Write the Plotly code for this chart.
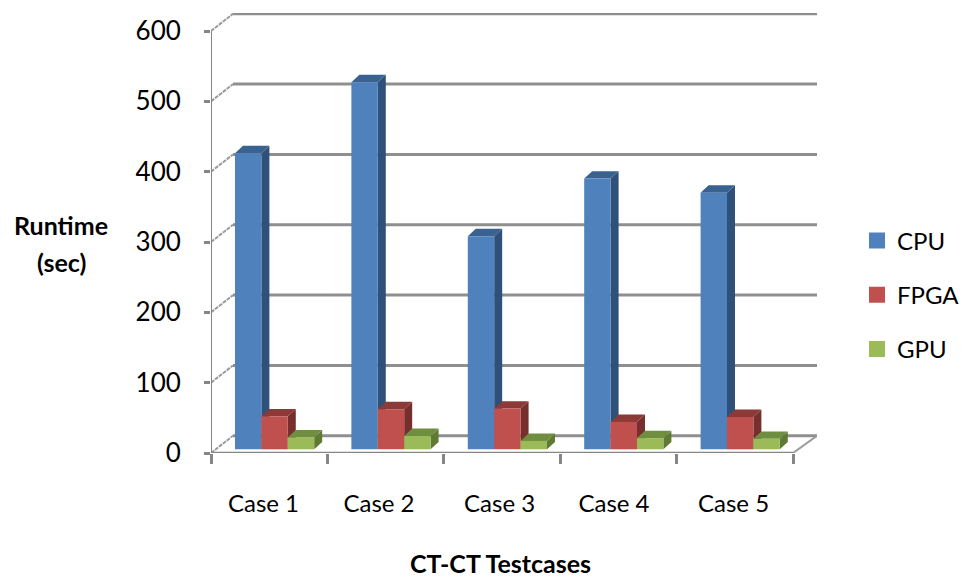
import plotly.graph_objects as go

# Runtime per test case, in seconds
cases = ["Case 1", "Case 2", "Case 3", "Case 4", "Case 5"]
case_label_pos = [0.451, 1.443, 2.479, 3.462, 4.489]
cpu = [421, 522, 303, 385, 365]
fpga = [47, 57, 58, 39, 46]
gpu = [17, 19, 12, 16, 15]
y_ticks = [0, 100, 200, 300, 400, 500, 600]

# Pseudo-3D projection, in axis units
WALL_DX = 0.189      # horizontal shift of the back wall
WALL_DY = 24.5       # vertical shift of the back wall
BAR_DX = 0.0687      # horizontal bar depth
BAR_DY = 10.5        # vertical bar depth
BAR_LIFT = 5.2       # bars stand slightly behind the front edge of the floor
BAR_W = 0.2268
FIRST_BAR = 0.206
AXIS = "#868686"
FONT = "Lato, 'Open Sans', sans-serif"

series = [
    ("CPU", cpu, "#4F81BD", "#2F5079", "#3A6291"),
    ("FPGA", fpga, "#C0504D", "#772F2D", "#8C3A38"),
    ("GPU", gpu, "#9BBB59", "#5F7A33", "#708E40"),
]

fig = go.Figure()

# Back wall gridlines, each with a diagonal down to the value axis
for v in y_ticks:
    fig.add_trace(go.Scatter(
        x=[WALL_DX, 5 + WALL_DX + 0.017], y=[v + WALL_DY, v + WALL_DY], mode="lines",
        line=dict(color="#8F8F8F", width=3), showlegend=False, hoverinfo="skip", zorder=0,
    ))
    fig.add_trace(go.Scatter(
        x=[0, WALL_DX], y=[v, v + WALL_DY], mode="lines",
        line=dict(color="#9A9A9A", width=2, dash="4px,1px"),
        showlegend=False, hoverinfo="skip", zorder=0,
    ))

# Right-hand edge of the floor
fig.add_trace(go.Scatter(
    x=[5, 5 + WALL_DX + 0.017], y=[0, WALL_DY], mode="lines",
    line=dict(color="#9A9A9A", width=2), showlegend=False, hoverinfo="skip", zorder=0,
))

z = 1
for s, (name, values, front, side, top) in enumerate(series):
    sx, sy, tx, ty, px = [], [], [], [], []
    for i, v in enumerate(values):
        left = i + FIRST_BAR + s * BAR_W
        right = left + BAR_W
        h = v + BAR_LIFT
        sx += [right, right + BAR_DX, right + BAR_DX, right, None]
        sy += [BAR_LIFT, BAR_LIFT + BAR_DY, h + BAR_DY, h, None]
        tx += [left, left + BAR_DX, right + BAR_DX, right, None]
        ty += [h, h + BAR_DY, h + BAR_DY, h, None]
        px.append((left + right) / 2)
    for fx, fy, colour in ((sx, sy, side), (tx, ty, top)):
        fig.add_trace(go.Scatter(
            x=fx, y=fy, mode="lines", fill="toself", fillcolor=colour,
            line=dict(width=0, color=colour), showlegend=False, hoverinfo="skip", zorder=z,
        ))
    z += 1
    fig.add_trace(go.Bar(
        x=px, y=values, base=BAR_LIFT, width=BAR_W, marker=dict(color=front, line=dict(width=0)),
        showlegend=False, name=name, zorder=z,
    ))
    z += 1
    # Larger square swatch for the legend
    fig.add_trace(go.Scatter(
        x=[None], y=[None], mode="markers", name=name, legendgroup=name,
        marker=dict(symbol="square", size=16, color=front), zorder=z,
    ))

# Front axis lines
fig.add_trace(go.Scatter(
    x=[0, 5], y=[0, 0], mode="lines", line=dict(color=AXIS, width=2.5),
    showlegend=False, hoverinfo="skip", cliponaxis=False, zorder=z + 1,
))
fig.add_trace(go.Scatter(
    x=[0, 0], y=[0, 600], mode="lines", line=dict(color=AXIS, width=2),
    showlegend=False, hoverinfo="skip", cliponaxis=False, zorder=z + 1,
))

fig.update_layout(
    width=962, height=580, autosize=False,
    margin=dict(l=211, r=145, t=13, b=127, autoexpand=False),
    paper_bgcolor="white", plot_bgcolor="white",
    font=dict(family=FONT, size=24, color="black"),
    showlegend=True,
    legend=dict(
        x=1.066, y=0.533, xanchor="left", yanchor="top", tracegroupgap=20,
        font=dict(size=24, family=FONT), bgcolor="rgba(0,0,0,0)", itemsizing="trace",
    ),
    xaxis=dict(
        range=[0, 5.206], showgrid=False, zeroline=False, showline=False,
        tickmode="array", tickvals=case_label_pos, ticktext=cases,
        ticks="", ticklabelstandoff=34, tickfont=dict(size=24, family=FONT),
        minor=dict(tickmode="array", tickvals=[0, 1, 2, 3, 4, 5], ticks="outside",
                   ticklen=10, tickwidth=2.5, tickcolor=AXIS, showgrid=False),
    ),
    yaxis=dict(
        range=[0, 625.6], showgrid=False, zeroline=False, showline=False,
        tickmode="array", tickvals=y_ticks, ticks="outside", ticklen=6, tickwidth=2.5,
        tickcolor=AXIS, ticklabelstandoff=18, tickfont=dict(size=26, family=FONT),
    ),
    annotations=[
        dict(text="<b>Runtime</b>", xref="paper", yref="paper", xanchor="center", yanchor="middle",
             x=(61 - 211) / 606, y=(453 - 225) / 440, showarrow=False, font=dict(size=25, family=FONT)),
        dict(text="<b>(sec)</b>", xref="paper", yref="paper", xanchor="center", yanchor="middle",
             x=(61 - 211) / 606, y=(453 - 262) / 440, showarrow=False, font=dict(size=25, family=FONT)),
        dict(text="<b>CT-CT Testcases</b>", xref="paper", yref="paper", xanchor="center", yanchor="middle",
             x=(500 - 211) / 606, y=(453 - 563) / 440, showarrow=False, font=dict(size=25, family=FONT)),
    ],
)

fig.write_html("out.html")
